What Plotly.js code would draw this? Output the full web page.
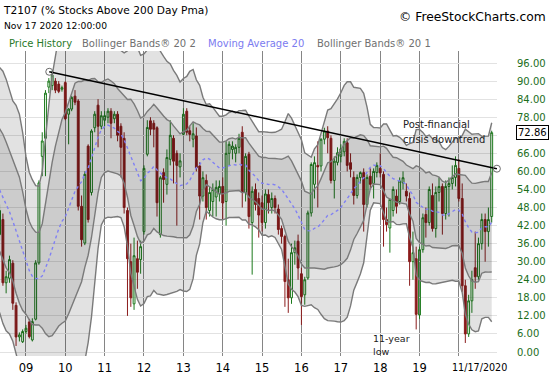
<!DOCTYPE html>
<html><head><meta charset="utf-8">
<script src="https://cdn.plot.ly/plotly-3.0.1.min.js"></script>
<style>html,body{margin:0;padding:0;background:#fff}#chart{width:550px;height:375px}</style>
</head><body><div id="chart"></div>
<script>
// ---- DATA (monthly candles, T2107) ----
const months = [
'2008-05-01','2008-06-01','2008-07-01','2008-08-01','2008-09-01','2008-10-01','2008-11-01','2008-12-01',
'2009-01-01','2009-02-01','2009-03-01','2009-04-01','2009-05-01','2009-06-01','2009-07-01','2009-08-01','2009-09-01','2009-10-01','2009-11-01','2009-12-01',
'2010-01-01','2010-02-01','2010-03-01','2010-04-01','2010-05-01','2010-06-01','2010-07-01','2010-08-01','2010-09-01','2010-10-01','2010-11-01','2010-12-01',
'2011-01-01','2011-02-01','2011-03-01','2011-04-01','2011-05-01','2011-06-01','2011-07-01','2011-08-01','2011-09-01','2011-10-01','2011-11-01','2011-12-01',
'2012-01-01','2012-02-01','2012-03-01','2012-04-01','2012-05-01','2012-06-01','2012-07-01','2012-08-01','2012-09-01','2012-10-01','2012-11-01','2012-12-01',
'2013-01-01','2013-02-01','2013-03-01','2013-04-01','2013-05-01','2013-06-01','2013-07-01','2013-08-01','2013-09-01','2013-10-01','2013-11-01','2013-12-01',
'2014-01-01','2014-02-01','2014-03-01','2014-04-01','2014-05-01','2014-06-01','2014-07-01','2014-08-01','2014-09-01','2014-10-01','2014-11-01','2014-12-01',
'2015-01-01','2015-02-01','2015-03-01','2015-04-01','2015-05-01','2015-06-01','2015-07-01','2015-08-01','2015-09-01','2015-10-01','2015-11-01','2015-12-01',
'2016-01-01','2016-02-01','2016-03-01','2016-04-01','2016-05-01','2016-06-01','2016-07-01','2016-08-01','2016-09-01','2016-10-01','2016-11-01','2016-12-01',
'2017-01-01','2017-02-01','2017-03-01','2017-04-01','2017-05-01','2017-06-01','2017-07-01','2017-08-01','2017-09-01','2017-10-01','2017-11-01','2017-12-01',
'2018-01-01','2018-02-01','2018-03-01','2018-04-01','2018-05-01','2018-06-01','2018-07-01','2018-08-01','2018-09-01','2018-10-01','2018-11-01','2018-12-01',
'2019-01-01','2019-02-01','2019-03-01','2019-04-01','2019-05-01','2019-06-01','2019-07-01','2019-08-01','2019-09-01','2019-10-01','2019-11-01','2019-12-01',
'2020-01-01','2020-02-01','2020-03-01','2020-04-01','2020-05-01','2020-06-01','2020-07-01','2020-08-01','2020-09-01','2020-10-01','2020-11-01'];

const openV = [
39,44,23,24.5,29.5,15.5,5,3.4,
6.8,10,4,10.9,29.6,65,71,88,88.5,90,89,87.3,
89.5,79,80.7,85,83.4,48.4,36.2,68.4,53,74.5,82,75,
77,78,80,77.5,79,75,71,47,30,16,31,30.7,
40,65.7,76.8,76,74.5,39,59.6,55.7,64,71,66,61.5,
72.3,80,73.5,70.7,71.8,61.8,51.8,57,47,50,51.5,52.5,
55,50,66,67.3,66,68,73,53,65.7,43,54,51,
49.6,43,52.3,48,51,47.5,41,38.4,24,18,33,36.8,
26,19,24.6,46.2,55.7,62,61.8,70.7,73.4,71,57,63,
65,66.5,69.5,62.9,58,52,58,59.6,49,58.4,56,59.6,
61,59,44,41.2,47,51.8,50,56.2,53.4,51,30,31,
12.3,34,45.7,43,52,41,53,55,46,55,56,58,
61,51,22,6,17,28,25,36,44,40,45];

const highV = [
49,46,27,32,30.5,16.5,6.5,7.5,
9,11,11.2,30.5,57,73,87,91,93.5,91,90,88.5,
90,81,85,87,84,52,60,69,74,80,84,80,
80,81,81,80,80,76,73,48,36,38,37,37,
62,77,78,77,75,58.5,61,67.3,77,72,67,66,
81,81,75,76,74.6,63,60,59,55,56,57,57,
58,70,70,70,69,72.5,75,66,66.5,55,56,53,
52,54,54,53,52,49,42,39,31,36,37,39,
28,25,47,63,65,70,71,74.5,75,72,65,68,
69,71,71,66,60,59,60,61,59,61,61,63,
66,60,48,51,55,54,58,60,56,53,40,35,
35,46,48,55,56,55,58,56,57,58,62,65,
64,56,24,19,27,40,38,46,46,48,73.5];

const lowV = [
37,22,19.5,23,14,2,3.5,3,
6,4.5,3.5,10.5,29,58.4,58.4,86,87,86,86,86.5,
77,69,80,82,47,35,35.5,43,52,73,68,74,
75,76,71,76,70,58,46,12,15,14,21,26,
39,65,72,68,45,38,49.6,52.3,62,56,42,58,
72,72,70,68,60,44,50,44,45,45,45,50,
44,42,62,64,63,66,48,50,41,25.7,47,38,
40,41,46,46,46,39,36,15,13,16,29,24,
9,15.7,24,45,51,48,60,69,66,56,51,62,
63,65,60,58,49,51,56,40,48,54,51,58,
58,35,40,33,45,46,49,54,50,22,24,7.5,
11,33,38,42,40,38,50,39,44,45,54,55,
50,20,3,5,13,21,24,34,30,35,43];

const closeV = [
47,23,25,30.7,16.2,5,5.7,6.8,
7.9,5.1,10.1,29.6,56.2,70.1,86,90,92,87,86.6,87.8,
77.5,80.7,84.6,83,48.4,37.3,59,44,73.4,79,75,78.5,
78.5,80,76,79,72,68,48,31,18,32,26.5,35,
61,74.6,74,74,49.6,57.9,57.3,64.6,72,63.4,62,63.5,
79,73,72.3,72.5,61.2,51.8,57.9,48,53,54,54.7,55,
49.5,66,69,68.4,68,71,53,65,45,53.4,49,45.5,
43,52.5,49.6,51,48,40.7,38.4,23.4,18,33,34.6,27.9,
18.4,24,46.2,62.3,62.9,61.5,70.7,73.4,71.2,57,63.4,66.2,
67.5,70,62,60.7,52,58,59.6,49,58,55.7,60,62,
59.5,44,42.3,50.7,54,48.4,56.8,57.9,51.8,30,33,12.5,
34,44.6,43,54,41,53,55,46,55,56,58,62,
51,22,6,17,24,25,36,44,40,44,72.86];

// monthly closes Oct 2006 - Apr 2008 (before the visible window), used only to warm up the 20-period bands
const priorCloses = [72,76,76,78,68,70,78,79,65,47,45,57,52,33,34,22,18,22,38];

const yTickVals = [0,6,12,18,24,30,36,42,48,54,60,66,72,78,84,90,96];
const yTickText = ['0.00','6.00','12.00','18.00','24.00','30.00','36.00','42.00','48.00','54.00','60.00','66.00','','78.00','84.00','90.00','96.00'];
const xTickVals = ['2009-01-01','2010-01-01','2011-01-01','2012-01-01','2013-01-01','2014-01-01','2015-01-01','2016-01-01','2017-01-01','2018-01-01','2019-01-01','2020-01-01'];
const xTickText = ['09','10','11','12','13','14','15','16','17','18','19',''];
const trendX = ['2009-08-05','2020-12-19'];
const trendY = [93.1, 60.9];
const bbPeriod = 20;

// ---- Bollinger bands from closes ----
const allCloses = priorCloses.concat(closeV);
const ma = [], up1 = [], lo1 = [], up2 = [], lo2 = [];
for (let i = 0; i < closeV.length; i++) {
  const end = priorCloses.length + i;
  const win = allCloses.slice(end - bbPeriod + 1, end + 1);
  const m = win.reduce((a, b) => a + b, 0) / win.length;
  const sd = Math.sqrt(win.reduce((a, b) => a + (b - m) * (b - m), 0) / win.length);
  ma.push(m); up1.push(m + sd); lo1.push(m - sd); up2.push(m + 2 * sd); lo2.push(m - 2 * sd);
}

// pixel -> paper helpers (plot area: x 0..497, y 51..356)
const PL = 0, PR = 497, PT = 51, PB = 356;
const px = x => (x - PL) / (PR - PL);
const py = y => (PB - y) / (PB - PT);

const bandLine = {color: '#7a7a7a', width: 1.4};
const traces = [
  {x: months, y: up2, type: 'scatter', mode: 'lines', line: bandLine, hoverinfo: 'skip'},
  {x: months, y: lo2, type: 'scatter', mode: 'lines', line: bandLine, fill: 'tonexty', fillcolor: 'rgba(0,0,0,0.115)', hoverinfo: 'skip'},
  {x: months, y: up1, type: 'scatter', mode: 'lines', line: bandLine, hoverinfo: 'skip'},
  {x: months, y: lo1, type: 'scatter', mode: 'lines', line: bandLine, fill: 'tonexty', fillcolor: 'rgba(0,0,0,0.095)', hoverinfo: 'skip'},
  {x: months, y: ma, type: 'scatter', mode: 'lines', line: {color: '#8080f4', width: 1.4, dash: '3px,3px'}, hoverinfo: 'skip'},
  {type: 'candlestick', x: months, open: openV, high: highV, low: lowV, close: closeV,
   increasing: {line: {color: '#1c7a1c', width: 1}, fillcolor: 'rgba(0,0,0,0)'},
   decreasing: {line: {color: '#8b1c1c', width: 1}, fillcolor: '#8b1c1c'},
   whiskerwidth: 0, hoverinfo: 'skip'},
  {x: trendX, y: trendY, type: 'scatter', mode: 'lines+markers', cliponaxis: false,
   line: {color: '#000', width: 1.5},
   marker: {symbol: 'circle-open', size: 7, color: '#6a6a6a', line: {width: 1}}, hoverinfo: 'skip'}
];

const F = 'DejaVu Sans, Verdana, sans-serif';
const ann = (x, y, text, size, color, anchor) => ({
  xref: 'paper', yref: 'paper', x: px(x), y: py(y), text: text, showarrow: false,
  xanchor: anchor || 'left', yanchor: 'middle', font: {family: F, size: size, color: color}
});
function lastValueLabel() { return closeV[closeV.length - 1].toFixed(2); }

const layout = {
  width: 550, height: 375,
  margin: {l: PL, r: 550 - PR, t: PT, b: 375 - PB, pad: 0},
  paper_bgcolor: '#fff', plot_bgcolor: '#fff',
  showlegend: false, boxgap: 0.12,
  font: {family: F, size: 11, color: '#000'},
  xaxis: {type: 'date', range: ['2008-05-05', '2020-12-20'], rangeslider: {visible: false},
    tickmode: 'array', tickvals: xTickVals, ticktext: xTickText,
    showgrid: true, gridcolor: '#858585', gridwidth: 1, zeroline: false, showline: false,
    ticks: 'outside', ticklen: 1, tickcolor: 'rgba(0,0,0,0)',
    tickfont: {family: F, size: 11.5, color: '#000'}, fixedrange: true},
  yaxis: {side: 'right', range: [-1.33, 100], tickmode: 'array', tickvals: yTickVals, ticktext: yTickText,
    showgrid: true, gridcolor: '#e2e2e2', gridwidth: 1, zeroline: false, showline: false,
    ticks: 'outside', ticklen: 17, tickcolor: 'rgba(0,0,0,0)',
    tickfont: {family: F, size: 10, color: '#1c6e1c'}, fixedrange: true},
  annotations: [
    ann(1, 10, 'T2107 (% Stocks Above 200 Day Pma)', 10.6, '#000'),
    ann(2, 26, 'Nov 17 2020 12:00:00', 9.2, '#000'),
    ann(548, 17, '© FreeStockCharts.com', 12.3, '#000', 'right'),
    ann(7, 43, 'Price History', 10, '#2a7a2a'),
    ann(80, 43, 'Bollinger Bands® 20 2', 10, '#707070'),
    ann(206, 43, 'Moving Average 20', 10, '#7b7bf0'),
    ann(315, 43, 'Bollinger Bands® 20 1', 10, '#707070'),
    ann(401, 124, 'Post-financial', 10, '#222'),
    ann(401, 139, 'crisis downtrend', 10, '#222'),
    ann(371, 338, '11-year', 9.5, '#222'),
    ann(371, 351, 'low', 9.5, '#222'),
    ann(450, 367, '11/17/2020', 9.6, '#000'),
    {xref: 'paper', yref: 'y', x: px(516), y: closeV[closeV.length - 1], text: lastValueLabel(),
     showarrow: false, xanchor: 'left', yanchor: 'middle', bgcolor: '#fff', bordercolor: '#000',
     borderwidth: 1, borderpad: 1, font: {family: F, size: 10, color: '#000'}}
  ]
};

Plotly.newPlot('chart', traces, layout, {displayModeBar: false, staticPlot: true});
</script></body></html>
